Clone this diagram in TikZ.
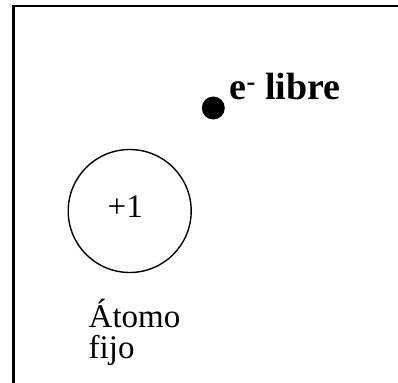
\documentclass[tikz,border=0pt]{standalone}
\usepackage{fontspec}
\setmainfont{Liberation Serif}
\begin{document}
\begin{tikzpicture}[x=1pt,y=-1pt,
  lbl/.style={inner sep=0pt,anchor=base west,font=\fontsize{33}{33}\selectfont},
  blbl/.style={inner sep=0pt,anchor=base west,font=\fontsize{38}{38}\selectfont\bfseries},
  frameline/.style={line width=2.6pt,line cap=rect},
  atomring/.style={circle,draw,line width=1.4pt,minimum size=123pt,inner sep=0pt},
  electron/.style={circle,fill=black,minimum size=23pt,inner sep=0pt}]
\useasboundingbox (0,0) rectangle (398,382);
\coordinate (tr) at (398,6);
\coordinate (tl) at (13.5,6);
\coordinate (bl) at (13.5,382);
\draw[frameline] (tr) -- (tl) -- (bl);
\node[atomring] (atom) at (129.7,211) {};
\node[lbl] (charge) at (107.5,217) {+1};
\node[lbl] (name1) at (88.5,327) {Átomo};
\node[lbl] (name2) at (88.5,358) {fijo};
\node[electron] (e) at (213.3,108) {};
\node[blbl] (elabel) at (229.5,100) {e\textsuperscript{-} libre};
\end{tikzpicture}
\end{document}
